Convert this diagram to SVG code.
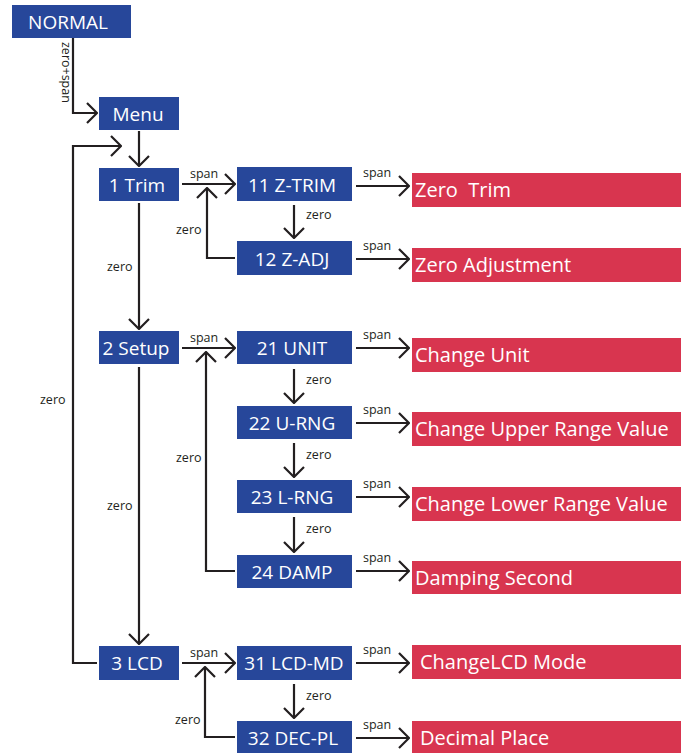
<svg xmlns="http://www.w3.org/2000/svg" width="688" height="753" viewBox="0 0 688 753">
<defs>
<style>
.b{fill:#27479a}
.r{fill:#d8354f}
.bt{font-family:"Open Sans","Liberation Sans",sans-serif;font-size:19px;fill:#fff;text-anchor:middle}
.rt{font-family:"Open Sans","Liberation Sans",sans-serif;font-size:20px;fill:#fff;white-space:pre}
.lb{font-family:"Open Sans","Liberation Sans",sans-serif;font-size:12.5px;fill:#231f20}
.c{fill:none;stroke:#231f20;stroke-width:2.2}
</style>
<marker id="ah" viewBox="0 0 12 22" refX="11" refY="11" markerWidth="12" markerHeight="22" orient="auto" markerUnits="userSpaceOnUse">
<path d="M1,1 L11,11 L1,21" fill="none" stroke="#231f20" stroke-width="2.2"/>
</marker>
</defs>
<rect width="688" height="753" fill="#fff"/>

<g id="connectors">
<path class="c" d="M73,38 V113 H97" marker-end="url(#ah)"/>
<path class="c" d="M139,131 V166" marker-end="url(#ah)"/>
<path class="c" d="M97,663 H73 V146 H121" marker-end="url(#ah)"/>
<path class="c" d="M139,203 V329" marker-end="url(#ah)"/>
<path class="c" d="M139,367 V644" marker-end="url(#ah)"/>
<path class="c" d="M182,184 H235" marker-end="url(#ah)"/>
<path class="c" d="M182,348 H235" marker-end="url(#ah)"/>
<path class="c" d="M182,663 H235" marker-end="url(#ah)"/>
<path class="c" d="M294,205 V238" marker-end="url(#ah)"/>
<path class="c" d="M235,258 H207 V188" marker-end="url(#ah)"/>
<path class="c" d="M294,369 V403" marker-end="url(#ah)"/>
<path class="c" d="M294,443 V477" marker-end="url(#ah)"/>
<path class="c" d="M294,517 V552" marker-end="url(#ah)"/>
<path class="c" d="M235,571 H206 V352" marker-end="url(#ah)"/>
<path class="c" d="M294,684 V718" marker-end="url(#ah)"/>
<path class="c" d="M235,737 H205 V667" marker-end="url(#ah)"/>
<path class="c" d="M356,186 H409" marker-end="url(#ah)"/>
<path class="c" d="M356,259 H409" marker-end="url(#ah)"/>
<path class="c" d="M356,348 H409" marker-end="url(#ah)"/>
<path class="c" d="M356,423 H409" marker-end="url(#ah)"/>
<path class="c" d="M356,497 H409" marker-end="url(#ah)"/>
<path class="c" d="M356,571 H409" marker-end="url(#ah)"/>
<path class="c" d="M356,663 H409" marker-end="url(#ah)"/>
<path class="c" d="M356,738 H409" marker-end="url(#ah)"/>
<text class="lb" transform="translate(62,42) rotate(90)">zero+span</text>
<text class="lb" x="190" y="178">span</text>
<text class="lb" x="190" y="342">span</text>
<text class="lb" x="190" y="657">span</text>
<text class="lb" x="363" y="177">span</text>
<text class="lb" x="363" y="250">span</text>
<text class="lb" x="363" y="339">span</text>
<text class="lb" x="363" y="414">span</text>
<text class="lb" x="363" y="488">span</text>
<text class="lb" x="363" y="562">span</text>
<text class="lb" x="363" y="654">span</text>
<text class="lb" x="363" y="729">span</text>
<text class="lb" x="40" y="404">zero</text>
<text class="lb" x="107" y="271">zero</text>
<text class="lb" x="107" y="510">zero</text>
<text class="lb" x="176" y="234">zero</text>
<text class="lb" x="176" y="462">zero</text>
<text class="lb" x="175" y="724">zero</text>
<text class="lb" x="306" y="219">zero</text>
<text class="lb" x="306" y="384">zero</text>
<text class="lb" x="306" y="459">zero</text>
<text class="lb" x="306" y="533">zero</text>
<text class="lb" x="306" y="700">zero</text>
</g>

<g id="normal"><rect class="b" x="12" y="5" width="119" height="33"/><text class="bt" x="68" y="29">NORMAL</text></g>
<g id="menu"><rect class="b" x="99" y="97" width="80" height="33"/><text class="bt" x="138" y="121">Menu</text></g>
<g id="trim"><rect class="b" x="99" y="168" width="80" height="33"/><text class="bt" x="137" y="192">1 Trim</text></g>
<g id="setup"><rect class="b" x="99" y="331" width="80" height="33"/><text class="bt" x="136" y="355">2 Setup</text></g>
<g id="lcd"><rect class="b" x="99" y="646" width="80" height="34"/><text class="bt" x="137" y="670">3 LCD</text></g>

<g id="ztrim"><rect class="b" x="237" y="167" width="115" height="34"/><text class="bt" x="292" y="192">11 Z-TRIM</text></g>
<g id="zadj"><rect class="b" x="237" y="241" width="115" height="34"/><text class="bt" x="292" y="266">12 Z-ADJ</text></g>
<g id="unit"><rect class="b" x="237" y="331" width="115" height="33"/><text class="bt" x="292" y="355">21 UNIT</text></g>
<g id="urng"><rect class="b" x="237" y="406" width="115" height="33"/><text class="bt" x="292" y="430">22 U-RNG</text></g>
<g id="lrng"><rect class="b" x="237" y="480" width="115" height="33"/><text class="bt" x="292" y="504">23 L-RNG</text></g>
<g id="damp"><rect class="b" x="237" y="555" width="115" height="33"/><text class="bt" x="292" y="579">24 DAMP</text></g>
<g id="lcdmd"><rect class="b" x="237" y="646" width="115" height="34"/><text class="bt" x="294" y="670">31 LCD-MD</text></g>
<g id="decpl"><rect class="b" x="237" y="721" width="115" height="32"/><text class="bt" x="293" y="745">32 DEC-PL</text></g>

<g id="zero-trim"><rect class="r" x="412" y="173" width="269" height="34"/><text class="rt" x="415" y="197" xml:space="preserve">Zero  Trim</text></g>
<g id="zero-adjustment"><rect class="r" x="412" y="248" width="269" height="34"/><text class="rt" x="415" y="272">Zero Adjustment</text></g>
<g id="change-unit"><rect class="r" x="412" y="338" width="269" height="34"/><text class="rt" x="415" y="362">Change Unit</text></g>
<g id="change-upper"><rect class="r" x="412" y="412" width="269" height="34"/><text class="rt" x="415" y="436">Change Upper Range Value</text></g>
<g id="change-lower"><rect class="r" x="412" y="487" width="269" height="34"/><text class="rt" x="415" y="511">Change Lower Range Value</text></g>
<g id="damping"><rect class="r" x="412" y="561" width="269" height="33"/><text class="rt" x="415" y="585">Damping Second</text></g>
<g id="change-lcd"><rect class="r" x="412" y="645" width="269" height="34"/><text class="rt" x="420" y="669">ChangeLCD Mode</text></g>
<g id="decimal"><rect class="r" x="412" y="721" width="269" height="32"/><text class="rt" x="420" y="745">Decimal Place</text></g>
</svg>
